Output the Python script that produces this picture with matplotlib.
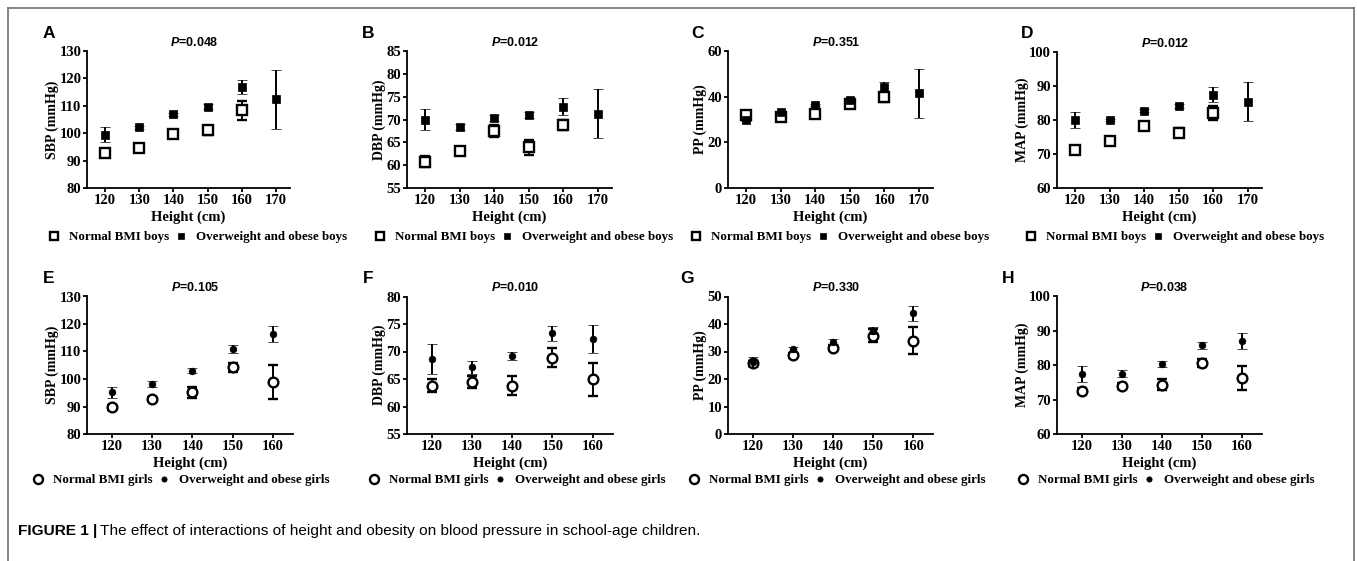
import matplotlib
matplotlib.use("Agg")
import matplotlib.pyplot as plt
from matplotlib.lines import Line2D
from matplotlib import font_manager

# ---------------- data ----------------
heights_boys = [120, 130, 140, 150, 160, 170]
heights_girls = [120, 130, 140, 150, 160]

# Boys: normal BMI (no 170 group)
sbp_boys_normal = [92.7, 94.6, 99.7, 101.0, 108.3]
sbp_boys_normal_err = [1.0, 0.8, 0.8, 1.5, 3.3]
sbp_boys_over = [99.4, 102.2, 106.9, 109.7, 116.9, 112.4]
sbp_boys_over_err = [2.7, 0.6, 0.6, 1.0, 2.6, 10.8]

dbp_boys_normal = [60.7, 63.2, 67.5, 63.9, 68.8]
dbp_boys_normal_err = [1.2, 0.5, 1.3, 1.7, 1.1]
dbp_boys_over = [69.9, 68.4, 70.3, 71.0, 72.8, 71.3]
dbp_boys_over_err = [2.3, 0.6, 0.7, 0.6, 1.9, 5.4]

pp_boys_normal = [32.0, 31.2, 32.4, 36.8, 39.7]
pp_boys_normal_err = [0.6, 0.6, 0.6, 1.0, 2.0]
pp_boys_over = [29.8, 33.4, 36.4, 38.5, 44.3, 41.4]
pp_boys_over_err = [0.6, 0.5, 0.5, 0.8, 2.2, 10.8]

map_boys_normal = [71.2, 73.9, 78.2, 76.3, 82.1]
map_boys_normal_err = [0.8, 0.5, 0.8, 1.4, 2.0]
map_boys_over = [80.0, 80.0, 82.7, 84.1, 87.5, 85.4]
map_boys_over_err = [2.3, 0.4, 0.4, 0.7, 2.1, 5.7]

# Girls
sbp_girls_normal = [89.7, 92.9, 95.1, 104.2, 98.8]
sbp_girls_normal_err = [1.0, 0.7, 2.0, 1.5, 6.2]
sbp_girls_over = [95.1, 98.1, 103.0, 110.9, 116.2]
sbp_girls_over_err = [2.1, 1.0, 1.0, 1.5, 2.9]

dbp_girls_normal = [63.8, 64.5, 63.8, 68.9, 65.0]
dbp_girls_normal_err = [1.2, 1.1, 1.7, 1.8, 3.0]
dbp_girls_over = [68.7, 67.1, 69.2, 73.3, 72.3]
dbp_girls_over_err = [2.7, 1.1, 0.7, 1.4, 2.6]

pp_girls_normal = [25.7, 28.6, 31.4, 35.7, 34.0]
pp_girls_normal_err = [0.8, 0.8, 0.9, 2.4, 5.0]
pp_girls_over = [26.3, 30.8, 33.6, 37.6, 43.9]
pp_girls_over_err = [1.8, 0.8, 0.8, 1.4, 2.7]

map_girls_normal = [72.5, 74.0, 74.3, 80.6, 76.3]
map_girls_normal_err = [1.0, 0.8, 1.6, 1.2, 3.6]
map_girls_over = [77.5, 77.5, 80.4, 85.8, 87.1]
map_girls_over_err = [2.3, 1.0, 0.8, 1.0, 2.4]

panel_letters = ["A", "B", "C", "D", "E", "F", "G", "H"]
p_values = ["0.048", "0.012", "0.351", "0.012", "0.105", "0.010", "0.330", "0.038"]
y_labels = ["SBP (mmHg)", "DBP (mmHg)", "PP (mmHg)", "MAP (mmHg)",
            "SBP (mmHg)", "DBP (mmHg)", "PP (mmHg)", "MAP (mmHg)"]
y_ticks = [[80, 90, 100, 110, 120, 130], [55, 60, 65, 70, 75, 80, 85],
           [0, 20, 40, 60], [60, 70, 80, 90, 100],
           [80, 90, 100, 110, 120, 130], [55, 60, 65, 70, 75, 80],
           [0, 10, 20, 30, 40, 50], [60, 70, 80, 90, 100]]
x_label = "Height (cm)"
legend_boys = ["Normal BMI boys", "Overweight and obese boys"]
legend_girls = ["Normal BMI girls", "Overweight and obese girls"]
caption_bold = "FIGURE 1 |"
caption_text = "The effect of interactions of height and obesity on blood pressure in school-age children."

# ---------------- layout ----------------
W, H = 1357, 561
fig = plt.figure(figsize=(W / 100, H / 100), dpi=100)

plt.rcParams['mathtext.fontset'] = 'custom'
plt.rcParams['mathtext.it'] = 'Liberation Sans:italic:bold'
plt.rcParams['mathtext.rm'] = 'Liberation Sans:bold'

SERIF = "Liberation Serif"
SANS = "Liberation Sans"

def fx(px):
    return px / W

def fy(py):
    return 1 - py / H

# axes rectangles in pixels: (left, top, right, bottom)
rects = [(87, 51, 290, 188), (406.7, 51, 611.7, 188), (727.7, 51, 933, 188), (1056.7, 52, 1261.7, 188),
         (87, 296.5, 293, 434), (406.7, 296.5, 612.7, 434), (727.7, 296.5, 933.3, 434), (1056.7, 296.5, 1261.7, 434)]
letter_pos = [(43, 33), (361.7, 33), (691.7, 33), (1020.7, 33),
              (43, 278), (363, 278), (680.7, 278), (1001.7, 278)]
legend_x = [47, 373, 689, 1024, 31, 367, 687, 1016]
legend_y = [237, 237, 237, 237, 480, 480, 480, 480]

series = [
    (sbp_boys_normal, sbp_boys_normal_err, sbp_boys_over, sbp_boys_over_err),
    (dbp_boys_normal, dbp_boys_normal_err, dbp_boys_over, dbp_boys_over_err),
    (pp_boys_normal, pp_boys_normal_err, pp_boys_over, pp_boys_over_err),
    (map_boys_normal, map_boys_normal_err, map_boys_over, map_boys_over_err),
    (sbp_girls_normal, sbp_girls_normal_err, sbp_girls_over, sbp_girls_over_err),
    (dbp_girls_normal, dbp_girls_normal_err, dbp_girls_over, dbp_girls_over_err),
    (pp_girls_normal, pp_girls_normal_err, pp_girls_over, pp_girls_over_err),
    (map_girls_normal, map_girls_normal_err, map_girls_over, map_girls_over_err),
]

for i in range(8):
    l, t, r, b = rects[i]
    ax = fig.add_axes([fx(l), fy(b), (r - l) / W, (b - t) / H])
    boys = i < 4
    if boys:
        xs_n = heights_boys[:5]
        xs_o = heights_boys
        mk_n, mk_o = 's', 's'
        ms_n, ms_o = 6.6, 5.2
        labels = legend_boys
        ax.set_xlim(114.7, 174.1)
        ax.set_xticks(heights_boys)
    else:
        xs_n = heights_girls
        xs_o = heights_girls
        mk_n, mk_o = 'o', 'o'
        ms_n, ms_o = 7.0, 4.8
        labels = legend_girls
        ax.set_xlim(113.8, 165.0)
        ax.set_xticks(heights_girls)
    yn, en, yo, eo = series[i]
    ax.errorbar(xs_n, yn, yerr=en, fmt=mk_n, ms=ms_n, mfc='white', mec='black', mew=1.7,
                ecolor='black', elinewidth=1.4, capsize=3.3, capthick=1.4, zorder=3)
    ax.errorbar(xs_o, yo, yerr=eo, fmt=mk_o, ms=ms_o, mfc='black', mec='black', mew=0.5,
                ecolor='black', elinewidth=1.4, capsize=3.3, capthick=1.4, zorder=4)
    yt = y_ticks[i]
    ax.set_ylim(yt[0], yt[-1])
    ax.set_yticks(yt)
    for s in ['top', 'right']:
        ax.spines[s].set_visible(False)
    for s in ['left', 'bottom']:
        ax.spines[s].set_linewidth(1.3)
    ax.tick_params(axis='both', direction='out', length=3, width=1.3, pad=1,
                   labelsize=10.5)
    for lab in ax.get_xticklabels() + ax.get_yticklabels():
        lab.set_fontfamily(SERIF)
        lab.set_fontweight('bold')
    ax.set_xlabel(x_label, fontfamily=SERIF, fontweight='bold', fontsize=10.5, labelpad=2.5)
    ax.set_ylabel(y_labels[i], fontfamily=SERIF, fontweight='bold', fontsize=10, labelpad=0.5)
    ax.text(0.527, 1.06 if boys else 1.066, r"$\mathit{P}$=" + p_values[i], transform=ax.transAxes,
            ha='center', va='center', fontsize=9, fontfamily=SANS, fontweight='bold')
    lx, ly = letter_pos[i]
    fig.text(fx(lx), fy(ly), panel_letters[i], ha='left', va='center', fontsize=12.5,
             fontfamily=SANS, fontweight='bold')
    # legend
    h1 = Line2D([], [], marker=mk_n, ls='none', ms=ms_n - 0.5, mfc='white', mec='black', mew=1.7)
    h2 = Line2D([], [], marker=mk_o, ls='none', ms=ms_o - 1.0, mfc='black', mec='black', mew=0.5)
    fig.legend([h1, h2], labels, loc='center left',
               bbox_to_anchor=(fx(legend_x[i]), fy(legend_y[i])), ncol=2, frameon=False,
               handlelength=1.0, handletextpad=0.65, columnspacing=0.4,
               borderpad=0, borderaxespad=0,
               prop={'family': SERIF, 'weight': 'bold', 'size': 9.4})

# outer frame
frame_color = '#707070'
for xs, ys in [((8, 8), (8, H + 5)), ((8, 1354), (8, 8)), ((1354, 1354), (8, H + 5))]:
    fig.add_artist(Line2D([fx(x) for x in xs], [fy(y) for y in ys], color=frame_color, lw=1.2))

# caption
names = {f.name for f in font_manager.fontManager.ttflist}
cap_font = "Liberation Sans Narrow" if "Liberation Sans Narrow" in names else SANS
cap_size = 12 if cap_font != SANS else 11.1
t1 = fig.text(fx(18), fy(531), caption_bold, ha='left', va='center', fontsize=cap_size,
              fontfamily=cap_font, fontweight='bold')
fig.canvas.draw()
bb = t1.get_window_extent(renderer=fig.canvas.get_renderer())
fig.text(bb.x1 / W + fx(3), fy(531), caption_text, ha='left', va='center', fontsize=cap_size,
         fontfamily=cap_font)

fig.savefig("out.png", dpi=100)
